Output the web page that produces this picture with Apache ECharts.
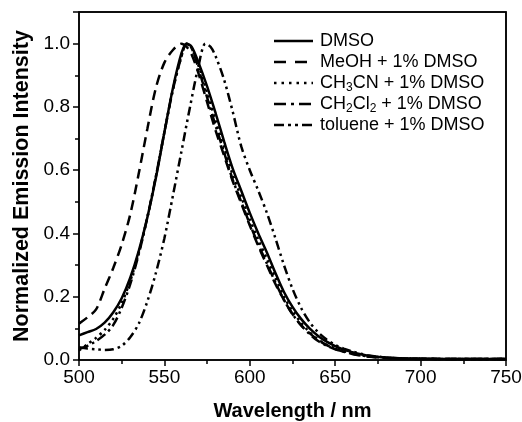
<!DOCTYPE html>
<html>
<head>
<meta charset="utf-8">
<script src="https://cdn.jsdelivr.net/npm/echarts@6/dist/echarts.min.js"></script>
<style>
html,body{margin:0;padding:0;background:#fff;}
#c{width:522px;height:422px;}
</style>
</head>
<body>
<div id="c"></div>
<script>
// ---- data ----
var wlDMSO = [500,505,510,515,520,525,530,535,540,545,550,555,560,563,566,570,575,580,585,590,595,600,605,610,615,620,625,630,635,640,645,650,655,660,665,670,680,690,700,725,750];
var valDMSO = [0.078,0.088,0.098,0.118,0.15,0.195,0.26,0.345,0.45,0.575,0.72,0.86,0.97,1.0,0.99,0.94,0.865,0.78,0.69,0.605,0.535,0.465,0.4,0.34,0.275,0.215,0.168,0.13,0.1,0.076,0.058,0.044,0.033,0.025,0.018,0.013,0.008,0.005,0.004,0.003,0.003];

var wlMeOH = [500,505,510,515,520,525,530,535,540,545,550,555,560,563,566,570,575,580,585,590,595,600,605,610,615,620,625,630,635,640,645,650,655,660,665,670,680,690,700,725,750];
var valMeOH = [0.115,0.135,0.16,0.225,0.29,0.365,0.46,0.59,0.73,0.86,0.94,0.98,1.0,0.99,0.965,0.905,0.815,0.725,0.645,0.565,0.495,0.425,0.36,0.3,0.24,0.19,0.145,0.11,0.085,0.063,0.047,0.035,0.026,0.019,0.014,0.01,0.006,0.004,0.003,0.003,0.003];

var wlCH3CN = [500,505,510,515,520,525,530,535,540,545,550,555,560,563,566,570,575,580,585,590,595,600,605,610,615,620,625,630,635,640,645,650,655,660,665,670,680,690,700,725,750];
var valCH3CN = [0.03,0.05,0.07,0.095,0.13,0.18,0.25,0.34,0.45,0.58,0.72,0.855,0.96,1.0,0.985,0.93,0.845,0.755,0.67,0.585,0.515,0.445,0.38,0.32,0.26,0.2,0.155,0.118,0.088,0.065,0.049,0.037,0.028,0.021,0.016,0.012,0.007,0.005,0.004,0.003,0.003];

var wlCH2Cl2 = [500,505,510,515,520,525,530,535,540,545,550,555,560,563,566,570,575,580,585,590,595,600,605,610,615,620,625,630,635,640,645,650,655,660,665,670,680,690,700,725,750];
var valCH2Cl2 = [0.035,0.045,0.06,0.08,0.11,0.165,0.24,0.335,0.45,0.58,0.72,0.855,0.96,1.0,0.985,0.92,0.83,0.74,0.655,0.57,0.5,0.43,0.365,0.305,0.245,0.19,0.145,0.11,0.082,0.06,0.045,0.034,0.026,0.02,0.015,0.011,0.007,0.005,0.004,0.003,0.003];

var wlToluene = [500,505,510,515,520,525,530,535,540,545,550,555,560,565,570,574,577,580,585,590,595,600,605,610,615,620,625,630,635,640,645,650,655,660,665,670,680,690,700,725,750];
var valToluene = [0.04,0.036,0.034,0.032,0.034,0.045,0.072,0.115,0.185,0.275,0.385,0.52,0.66,0.8,0.93,1.0,0.99,0.96,0.885,0.785,0.675,0.6,0.535,0.465,0.385,0.3,0.225,0.165,0.12,0.088,0.065,0.048,0.036,0.027,0.02,0.014,0.008,0.005,0.004,0.003,0.003];

// legend text pieces: [main, sub, main, sub, main]
var legendParts = [
  ['DMSO'],
  ['MeOH + 1% DMSO'],
  ['CH', '3', 'CN + 1% DMSO'],
  ['CH', '2', 'Cl', '2', ' + 1% DMSO'],
  ['toluene + 1% DMSO']
];
var seriesNames = ['DMSO', 'MeOH + 1% DMSO', 'CH3CN + 1% DMSO', 'CH2Cl2 + 1% DMSO', 'toluene + 1% DMSO'];
var xRange = [500, 750];
var yRange = [0, 1.1];

// ---- styles ----
var FONT = '"Liberation Sans", Arial, Helvetica, sans-serif';
var dashes = ['solid', [10, 6], [2.5, 4], [10, 4, 2.5, 4], [9, 4, 2.5, 4, 2.5, 4]];
var legendDashes = [null, [12, 9], [2.5, 5], [12, 5, 3, 5], [10, 4, 3, 4, 3, 4]];

function pairs(xs, ys) { return xs.map(function (x, i) { return [x, ys[i]]; }); }
var allWl = [wlDMSO, wlMeOH, wlCH3CN, wlCH2Cl2, wlToluene];
var allVal = [valDMSO, valMeOH, valCH3CN, valCH2Cl2, valToluene];

var series = seriesNames.map(function (n, i) {
  return {
    name: n, type: 'line', data: pairs(allWl[i], allVal[i]),
    showSymbol: false, symbol: 'none', smooth: 0.3,
    lineStyle: { color: '#000', width: 2.5, type: dashes[i], cap: 'butt' },
    z: 5 - i
  };
});

// measure text widths to place subscripts
var mctx = document.createElement('canvas').getContext('2d');
function textW(t, size) { mctx.font = size + 'px ' + FONT; return mctx.measureText(t).width; }

var graphics = [];
var legendY0 = 41, legendDy = 21, MAIN = 18, SUB = 12;
legendParts.forEach(function (parts, i) {
  var y = legendY0 + i * legendDy;
  graphics.push({
    type: 'line', z: 100,
    shape: { x1: 274, y1: y, x2: 313, y2: y },
    style: { stroke: '#000', lineWidth: 2.5, lineDash: legendDashes[i] }
  });
  var x = 320;
  parts.forEach(function (p, k) {
    var isSub = (k % 2 === 1);
    var size = isSub ? SUB : MAIN;
    graphics.push({
      type: 'text', z: 100, x: x, y: isSub ? y + 5 : y,
      style: { text: p, fill: '#000', fontSize: size, fontFamily: FONT, verticalAlign: 'middle', align: 'left' }
    });
    x += textW(p, size);
  });
});

var axisLineStyle = { color: '#000', width: 1.5 };
var chart = echarts.init(document.getElementById('c'));
chart.setOption({
  animation: false,
  backgroundColor: '#fff',
  grid: { left: 79, right: 16, top: 12, bottom: 62, outerBoundsMode: 'none',
          show: true, borderColor: '#000', borderWidth: 1.5 },
  xAxis: {
    type: 'value', min: xRange[0], max: xRange[1], interval: 50,
    name: 'Wavelength / nm', nameLocation: 'middle', nameGap: 41,
    nameTextStyle: { fontSize: 20, fontWeight: 'bold', fontFamily: FONT, color: '#000' },
    axisLine: { show: true, onZero: false, lineStyle: axisLineStyle },
    axisTick: { show: true, inside: false, length: 6, lineStyle: axisLineStyle },
    minorTick: { show: true, splitNumber: 2, length: 4, lineStyle: axisLineStyle },
    axisLabel: { fontSize: 19, fontFamily: FONT, color: '#000', margin: 8 },
    splitLine: { show: false }
  },
  yAxis: {
    type: 'value', min: yRange[0], max: yRange[1], interval: 0.2,
    name: 'Normalized Emission Intensity', nameLocation: 'middle', nameGap: 46, nameRotate: 90,
    nameTextStyle: { fontSize: 21.5, fontWeight: 'bold', fontFamily: FONT, color: '#000' },
    axisLine: { show: true, onZero: false, lineStyle: axisLineStyle },
    axisTick: { show: true, inside: false, length: 6, lineStyle: axisLineStyle },
    minorTick: { show: true, splitNumber: 2, length: 4, lineStyle: axisLineStyle },
    axisLabel: { fontSize: 19, fontFamily: FONT, color: '#000', margin: 9, showMaxLabel: false,
                 formatter: function (v) { return v > 1.05 ? '' : v.toFixed(1); } },
    splitLine: { show: false }
  },
  series: series
});

// frame (top and right edges) from the axes' own scales
var p0 = chart.convertToPixel({ gridIndex: 0 }, [xRange[0], yRange[0]]);
var p1 = chart.convertToPixel({ gridIndex: 0 }, [xRange[1], yRange[1]]);
graphics.push({
  type: 'polyline', z: 50,
  shape: { points: [[p0[0], p1[1]], [p1[0], p1[1]], [p1[0], p0[1]]] },
  style: { stroke: '#000', lineWidth: 1.5, fill: null }
});
chart.setOption({ graphic: graphics });
</script>
</body>
</html>
